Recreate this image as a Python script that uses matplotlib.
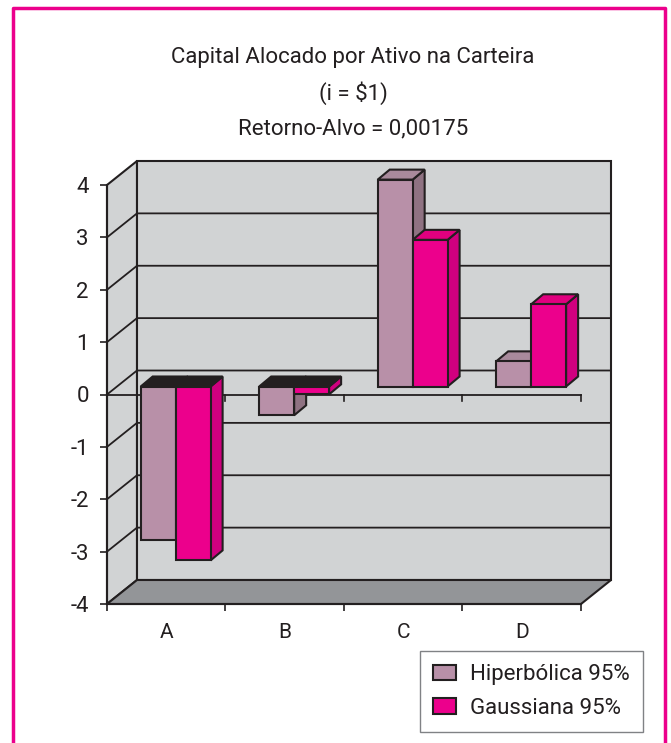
import matplotlib
matplotlib.use('Agg')
import matplotlib.pyplot as plt
from matplotlib.lines import Line2D
from matplotlib.patches import Patch, Polygon

plt.rcParams['font.family'] = ['Roboto', 'Liberation Sans', 'DejaVu Sans']

categories = ['A', 'B', 'C', 'D']
hiperbolica = [-2.94, -0.55, 3.95, 0.48]
gaussiana = [-3.32, -0.15, 2.80, 1.57]
series_names = ['Hiperbólica 95%', 'Gaussiana 95%']
yticks = [-4, -3, -2, -1, 0, 1, 2, 3, 4]
title_lines = ['Capital Alocado por Ativo na Carteira', '(i = $1)', 'Retorno-Alvo = 0,00175']

W, H = 671, 743
INK = '#231f20'
WALL = '#d1d3d4'
FLOOR = '#939598'
colors = {'front': ['#b890a8', '#ec008c'], 'side': ['#8f7282', '#d0007f'], 'top': ['#a98a9c', '#e0007f']}

# front plane of the 3d box in pixels
X0, X1, Y_TOP, Y_BOT = 107, 581, 185, 604
fig = plt.figure(figsize=(W / 100, H / 100), dpi=100, facecolor='white')
ax = fig.add_axes([X0 / W, 1 - Y_BOT / H, (X1 - X0) / W, (Y_BOT - Y_TOP) / H])
ax.set_xlim(0, 4)
ax.set_ylim(-4, 4)
ax.patch.set_visible(False)

ux = (X1 - X0) / 4  # px per category
uy = (Y_BOT - Y_TOP) / 8  # px per unit
DX, DY = 30 / ux, 24 / uy  # wall depth
BX, BY = 10 / ux, 8 / uy  # bar front depth
SX, SY = 12 / ux, 10 / uy  # bar depth


def poly(pts, fc, z, lw=1.5):
    ax.add_patch(Polygon(pts, closed=True, facecolor=fc, edgecolor=INK, lw=lw,
                         zorder=z, clip_on=False, joinstyle='miter'))


# walls and floor
poly([(0, -4), (DX, -4 + DY), (DX, 4 + DY), (0, 4)], WALL, 1)
poly([(DX, -4 + DY), (4 + DX, -4 + DY), (4 + DX, 4 + DY), (DX, 4 + DY)], WALL, 1)
poly([(0, -4), (4, -4), (4 + DX, -4 + DY), (DX, -4 + DY)], FLOOR, 2)
for t in yticks[1:-1]:
    ax.plot([0, DX, 4 + DX], [t, t + DY, t + DY], color=INK, lw=1.3, zorder=2, clip_on=False)

# zero axis with its ticks
ax.plot([0, 4], [0, 0], color=INK, lw=1.3, zorder=3, clip_on=False)
for i in range(5):
    ax.plot([i, i], [0, -0.13], color=INK, lw=1.2, zorder=3, clip_on=False)


def bar3d(left, width, val, k, z):
    l, r = left + BX, left + width + BX
    lo, hi = BY + min(val, 0), BY + max(val, 0)
    top_col = INK if val < 0 else colors['top'][k]
    poly([(r, lo), (r + SX, lo + SY), (r + SX, hi + SY), (r, hi)], colors['side'][k], z)
    poly([(l, hi), (r, hi), (r + SX, hi + SY), (l + SX, hi + SY)], top_col, z)
    poly([(l, lo), (r, lo), (r, hi), (l, hi)], colors['front'][k], z)


bw = 0.295
for i in range(len(categories)):
    bar3d(i + 0.2, bw, hiperbolica[i], 0, 5)
    bar3d(i + 0.2 + bw, bw, gaussiana[i], 1, 6)

for s in ['top', 'right']:
    ax.spines[s].set_visible(False)
for s in ['left', 'bottom']:
    ax.spines[s].set_color(INK)
    ax.spines[s].set_linewidth(1.5)
    ax.spines[s].set_zorder(4)

ax.set_yticks(yticks, [str(t) for t in yticks])
ax.set_xticks([i + 0.5 for i in range(4)], categories)
ax.set_xticks(range(5), minor=True)
ax.tick_params(axis='y', length=5, width=1.2, color=INK, labelcolor=INK, labelsize=16, pad=8)
ax.tick_params(axis='x', which='major', length=0, labelcolor=INK, labelsize=15, pad=14)
ax.tick_params(axis='x', which='minor', length=5, width=1.2, color=INK)

# title
for line, y in zip(title_lines, [58, 93, 129]):
    fig.text(353 / W, 1 - y / H, line, ha='center', va='center', fontsize=16, color=INK)

# legend
handles = [Patch(facecolor=colors['front'][k], edgecolor=INK, lw=1.5) for k in range(2)]
fig.legend(handles, series_names, loc='lower left', bbox_to_anchor=(420 / W, 1 - 732 / H),
           bbox_transform=fig.transFigure, borderaxespad=0, fancybox=False, framealpha=1,
           edgecolor='#808285', fontsize=16, labelcolor=INK, handlelength=1.0, handleheight=0.7,
           handletextpad=0.65, labelspacing=0.55, borderpad=0.6)

# open pink frame around the page
fig.add_artist(Line2D([13 / W, 13 / W, 665 / W, 665 / W], [0, 1 - 8 / H, 1 - 8 / H, 0],
                      color='#ec008c', lw=2.5, transform=fig.transFigure))

fig.savefig('out.png', dpi=100)
